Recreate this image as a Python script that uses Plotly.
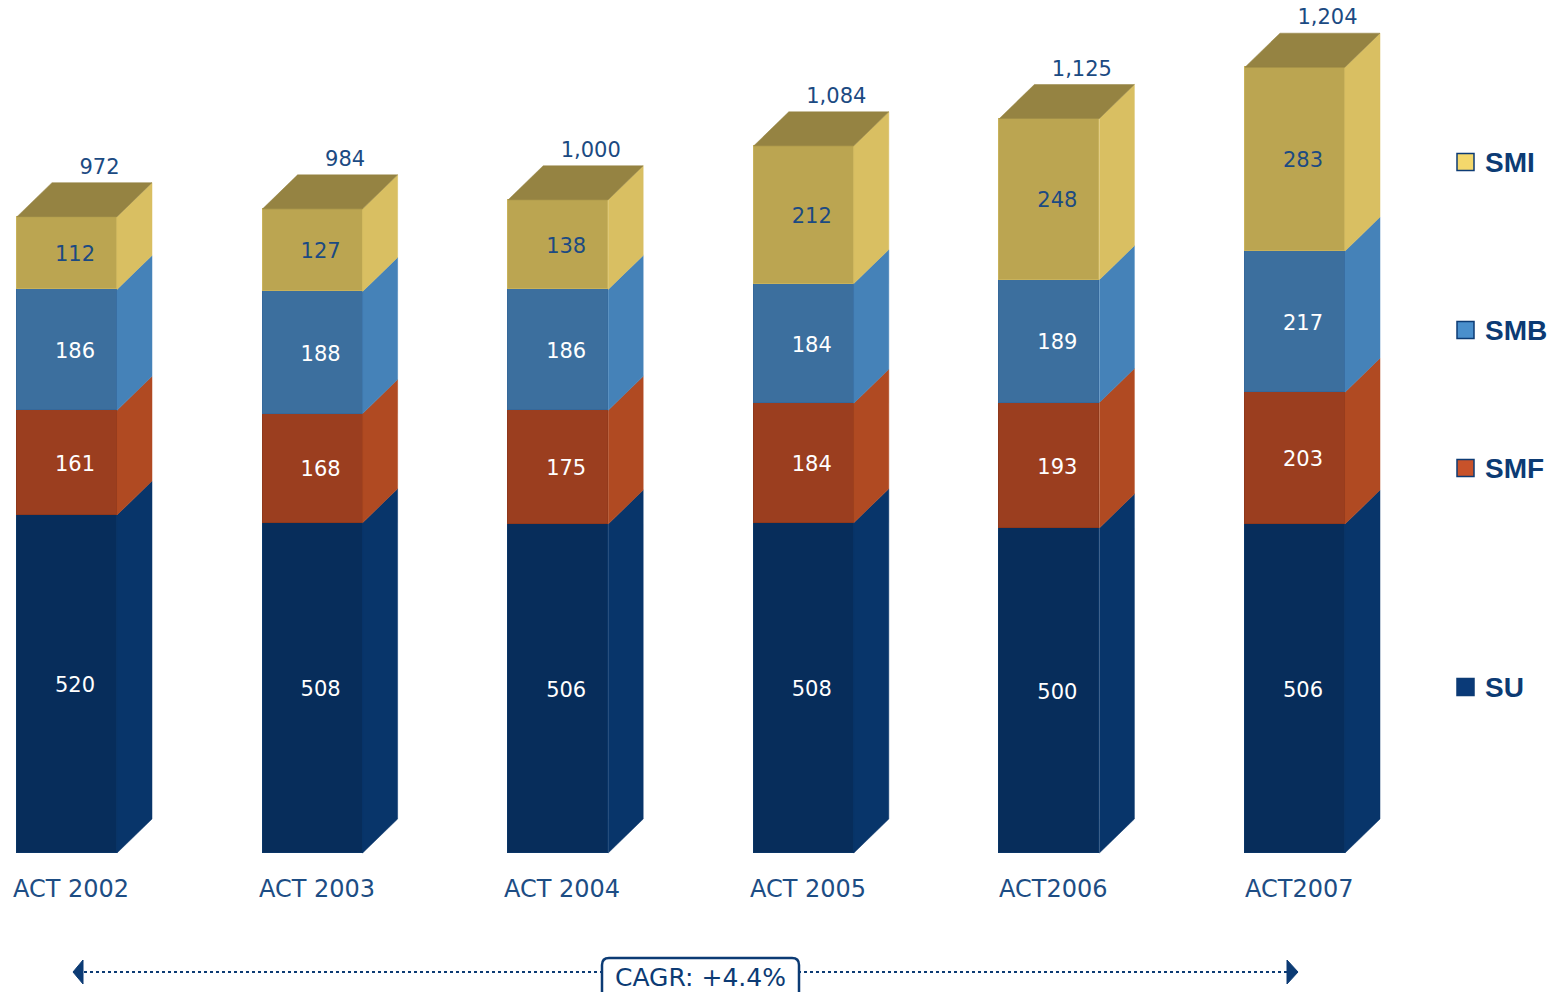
import plotly.graph_objects as go

categories = ["ACT 2002", "ACT 2003", "ACT 2004", "ACT 2005", "ACT2006", "ACT2007"]
series_names = ["SU", "SMF", "SMB", "SMI"]
su = [520, 508, 506, 508, 500, 506]
smf = [161, 168, 175, 184, 193, 203]
smb = [186, 188, 186, 184, 189, 217]
smi = [112, 127, 138, 212, 248, 283]
totals = ["972", "984", "1,000", "1,084", "1,125", "1,204"]
cagr_label = "CAGR: +4.4%"

series_values = [su, smf, smb, smi]
front_colors = ["#072d5b", "#9b3e1f", "#3c6f9e", "#bba551"]
side_colors = ["#08356a", "#b04a22", "#4582b8", "#d9bf62"]
edge_colors = ["#0a3566", "#8e381c", "#36689a", "#c8b25c"]
top_color = "#958342"
label_colors = ["#ffffff", "#ffffff", "#ffffff", "#1b4a82"]
legend_fill = ["#0a3a78", "#c8522a", "#4a8fcc", "#f4d86c"]
navy = "#0c3b74"

W, H = 1556, 992
PX_X0, PX_DX = 67.0, 245.6        # pixel of category 0 centre, pixels per category
BASE_PX, PX_PER_UNIT = 853.0, 0.650
XR = [(0 - PX_X0) / PX_DX, (W - PX_X0) / PX_DX]
YR = [-(H - BASE_PX) / PX_PER_UNIT, BASE_PX / PX_PER_UNIT]
BAR_W = 100 / PX_DX
DX = 35 / PX_DX
DY = 34 / PX_PER_UNIT

def px(xp):
    return xp / W

def py(yp):
    return 1 - yp / H

fig = go.Figure()
xs = list(range(len(categories)))

# front faces
for k, name in enumerate(series_names):
    fig.add_trace(go.Bar(
        x=xs, y=series_values[k], name=name, width=BAR_W,
        marker=dict(color=front_colors[k], line=dict(color=edge_colors[k], width=1.5)),
        showlegend=False, hoverinfo="skip"))

# side faces and tops
for i in xs:
    x1 = i + BAR_W / 2
    x0 = i - BAR_W / 2
    bottom = 0
    for k in range(len(series_names)):
        top = bottom + series_values[k][i]
        fig.add_trace(go.Scatter(
            x=[x1, x1 + DX, x1 + DX, x1, x1],
            y=[bottom, bottom + DY, top + DY, top, bottom],
            fill="toself", fillcolor=side_colors[k], mode="lines",
            line=dict(width=0.5, color=side_colors[k]),
            showlegend=False, hoverinfo="skip"))
        # value label
        fig.add_trace(go.Scatter(
            x=[i + 8 / PX_DX], y=[(bottom + top) / 2 - 3 / PX_PER_UNIT], mode="text",
            text=[str(series_values[k][i])],
            textfont=dict(family="DejaVu Sans", size=21, color=label_colors[k]),
            showlegend=False, hoverinfo="skip"))
        bottom = top
    fig.add_trace(go.Scatter(
        x=[x0, x1, x1 + DX, x0 + DX, x0],
        y=[bottom, bottom, bottom + DY, bottom + DY, bottom],
        fill="toself", fillcolor=top_color, mode="lines",
        line=dict(width=0.5, color=top_color),
        showlegend=False, hoverinfo="skip"))
    fig.add_trace(go.Scatter(
        x=[i + DX / 2 + 15 / PX_DX], y=[bottom + 48 / PX_PER_UNIT], mode="text",
        text=[totals[i]],
        textfont=dict(family="DejaVu Sans", size=21, color="#1b4a82"),
        showlegend=False, hoverinfo="skip"))

annotations = []
for i, c in enumerate(categories):
    annotations.append(dict(
        x=i + 4 / PX_DX, y=-(889 - BASE_PX) / PX_PER_UNIT, xref="x", yref="y",
        text=c, showarrow=False, xanchor="center", yanchor="middle",
        font=dict(family="DejaVu Sans", size=24, color="#1d4d84")))

# legend (custom, aligned with last bar segments)
legend_y = [687, 468, 330, 162]
shapes = []
for k, name in enumerate(series_names):
    yc = legend_y[k]
    shapes.append(dict(type="rect", xref="paper", yref="paper",
                       x0=px(1457), x1=px(1474), y0=py(yc - 8.5), y1=py(yc + 8.5),
                       fillcolor=legend_fill[k], line=dict(color=navy, width=1.5)))
    annotations.append(dict(x=px(1483), y=py(yc), xref="paper", yref="paper",
                            text="<b>" + name + "</b>", showarrow=False,
                            xanchor="left", yanchor="middle",
                            font=dict(family="Liberation Sans", size=28, color=navy)))

# CAGR arrow
ya = 972
shapes.append(dict(type="line", xref="paper", yref="paper",
                   x0=px(84), x1=px(1287), y0=py(ya), y1=py(ya),
                   line=dict(color=navy, width=2.2, dash="dot")))
shapes.append(dict(type="path", xref="paper", yref="paper",
                   path=f"M {px(73)} {py(ya)} L {px(83)} {py(ya-12)} L {px(83)} {py(ya+12)} Z",
                   fillcolor=navy, line=dict(color=navy, width=1)))
shapes.append(dict(type="path", xref="paper", yref="paper",
                   path=f"M {px(1298)} {py(ya)} L {px(1287)} {py(ya-12)} L {px(1287)} {py(ya+12)} Z",
                   fillcolor=navy, line=dict(color=navy, width=1)))
# rounded box
bx0, bx1, by0, by1, r = 602, 799, 958, 1000, 7
path = (f"M {px(bx0)} {py(by1)} L {px(bx0)} {py(by0 + r)} "
        f"Q {px(bx0)} {py(by0)} {px(bx0 + r)} {py(by0)} "
        f"L {px(bx1 - r)} {py(by0)} Q {px(bx1)} {py(by0)} {px(bx1)} {py(by0 + r)} "
        f"L {px(bx1)} {py(by1)} Z")
shapes.append(dict(type="path", xref="paper", yref="paper", path=path,
                   fillcolor="white", line=dict(color=navy, width=2.5)))
annotations.append(dict(x=px(700), y=py(977), xref="paper", yref="paper",
                        text=cagr_label, showarrow=False, xanchor="center", yanchor="middle",
                        font=dict(family="DejaVu Sans", size=25, color=navy)))

fig.update_layout(
    width=W, height=H, margin=dict(l=0, r=0, t=0, b=0),
    barmode="stack", bargap=0,
    plot_bgcolor="white", paper_bgcolor="white",
    xaxis=dict(range=XR, visible=False, fixedrange=True),
    yaxis=dict(range=YR, visible=False, fixedrange=True),
    shapes=shapes, annotations=annotations, showlegend=False,
)

fig.write_html("out.html", config={"displayModeBar": False},
               post_script="document.body.style.margin='0';document.body.style.overflow='hidden';")
